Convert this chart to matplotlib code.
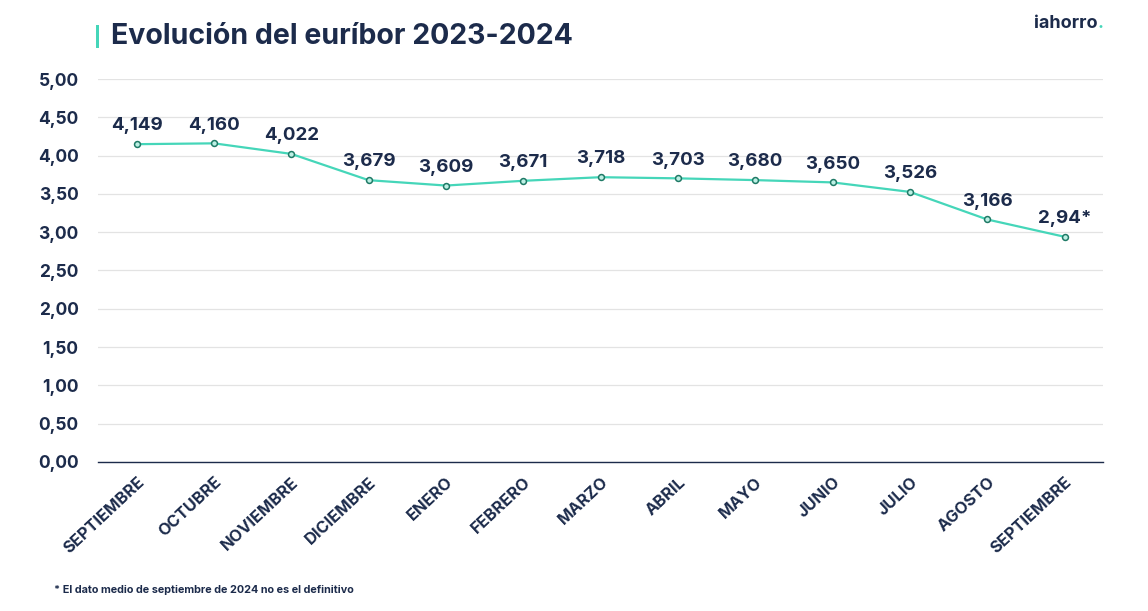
import matplotlib
matplotlib.use('Agg')
import matplotlib.pyplot as plt
from matplotlib.patches import Rectangle

# euribor monthly values, sep 2023 - sep 2024
months = ['SEPTIEMBRE', 'OCTUBRE', 'NOVIEMBRE', 'DICIEMBRE', 'ENERO', 'FEBRERO',
          'MARZO', 'ABRIL', 'MAYO', 'JUNIO', 'JULIO', 'AGOSTO', 'SEPTIEMBRE']
euribor = [4.149, 4.160, 4.022, 3.679, 3.609, 3.671, 3.718, 3.703, 3.680, 3.650,
           3.526, 3.166, 2.94]
labels = ['4,149', '4,160', '4,022', '3,679', '3,609', '3,671', '3,718', '3,703',
          '3,680', '3,650', '3,526', '3,166', '2,94*']
y_ticks = [0, 0.5, 1, 1.5, 2, 2.5, 3, 3.5, 4, 4.5, 5]

navy = '#1c2b4b'
teal = '#45d6b9'

plt.rcParams['font.family'] = ['Inter', 'DejaVu Sans']

fig = plt.figure(figsize=(11.48, 6.11), dpi=100)
ax = fig.add_axes([0.0854, 0.2439, 0.8756, 0.6268])

x = list(range(len(months)))
ax.plot(x, euribor, color=teal, lw=1.6, zorder=3)
ax.scatter(x, euribor, s=18, facecolor='#bdf0e4', edgecolor='#1f7a66', lw=1.1, zorder=4)

for xi, yi, lab in zip(x, euribor, labels):
    ax.annotate(lab, (xi, yi), xytext=(0, 7), textcoords='offset points',
                ha='center', va='bottom', fontsize=13.5, fontweight='bold', color=navy)

ax.set_xlim(-0.5, len(months) - 0.5)
ax.set_ylim(0, 5)
ax.set_yticks(y_ticks)
ax.set_yticklabels([('%.2f' % v).replace('.', ',') for v in y_ticks],
                   fontsize=12.5, fontweight='bold', color=navy)
ax.set_xticks(x)
ax.set_xticklabels(months, rotation=43, ha='right', rotation_mode='anchor',
                   fontsize=11.8, fontweight='bold', color=navy)
ax.tick_params(length=0)
ax.tick_params(axis='y', pad=14)
ax.tick_params(axis='x', pad=9)

ax.grid(axis='y', color='#e3e3e3', lw=0.9)
ax.set_axisbelow(True)
for s in ['top', 'right', 'left']:
    ax.spines[s].set_visible(False)
ax.spines['bottom'].set_color(navy)
ax.spines['bottom'].set_linewidth(1.0)

# title with small green bar
fig.patches.append(Rectangle((0.0836, 0.921), 0.0028, 0.038, transform=fig.transFigure,
                             color=teal, lw=0))
fig.text(0.097, 0.940, 'Evolución del euríbor 2023-2024', fontsize=20.5,
         fontweight='bold', color=navy, va='center')

# logo
fig.text(0.956, 0.962, 'iahorro', fontsize=13, fontweight='bold', color=navy,
         ha='right', va='center')
fig.text(0.956, 0.962, '.', fontsize=13, fontweight='bold', color=teal,
         ha='left', va='center')

fig.text(0.047, 0.034, '* El dato medio de septiembre de 2024 no es el definitivo',
         fontsize=7.8, fontweight='bold', color=navy, va='center')

fig.savefig('out.png', dpi=100, facecolor='white')
